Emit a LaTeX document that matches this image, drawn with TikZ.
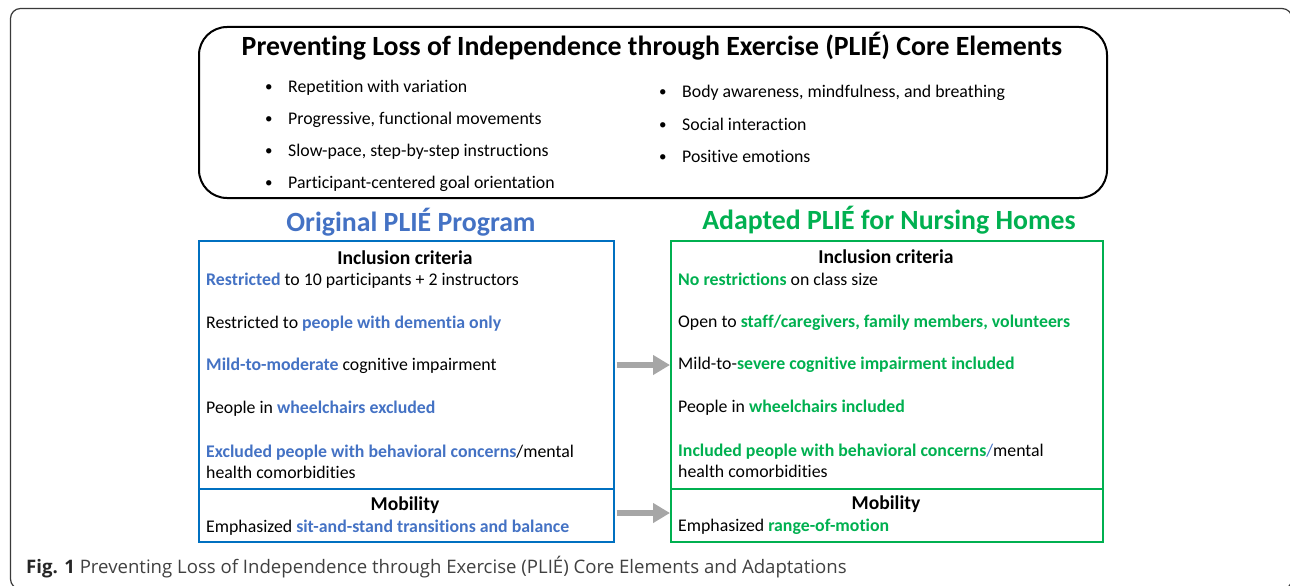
\documentclass[tikz,border=0pt]{standalone}
\usepackage{fontspec}
\setmainfont{Carlito}[Ligatures=NoCommon]
\newfontfamily\capfont{Open Sans}
\usetikzlibrary{arrows.meta}
\definecolor{plieblue}{HTML}{4472C4}
\definecolor{boxblue}{HTML}{0070C0}
\definecolor{pliegreen}{HTML}{00B050}
\definecolor{arrowgray}{HTML}{A6A6A6}
\definecolor{framegray}{HTML}{3A3A3A}
\definecolor{captiongray}{HTML}{404040}
\newcommand{\origem}[1]{\textcolor{plieblue}{\bfseries #1}}
\newcommand{\adaptem}[1]{\textcolor{pliegreen}{\bfseries #1}}
\begin{document}
\begin{tikzpicture}[x=1pt,y=-1pt,
  txt/.style={anchor=west, inner sep=0pt, align=left, yshift=-1.5pt,
    font=\fontsize{17.8}{21}\selectfont},
  bulletitem/.style={txt},
  head/.style={inner sep=0pt, yshift=-1pt, font=\fontsize{19.6}{23}\selectfont\bfseries},
  progtitle/.style={inner sep=0pt, font=\fontsize{27.8}{32}\selectfont\bfseries},
  origbox/.style={draw=boxblue, line width=2pt, anchor=north west, inner sep=0pt},
  adaptbox/.style={draw=pliegreen, line width=2pt, anchor=north west, inner sep=0pt},
  flow/.style={arrowgray, line width=5.5pt, shorten <=1.5pt,
    -{Triangle[length=17pt,width=19pt]}}]
\useasboundingbox (0,0) rectangle (1290,586);

% outer frame of the figure
\draw[framegray, line width=1.2pt, rounded corners=10pt] (10.5,8.5) rectangle (1292,589);

% core elements panel
\node[draw=black, line width=2pt, rounded corners=28pt, anchor=north west,
  minimum width=908pt, minimum height=171pt, inner sep=0pt] (core) at (198,26) {};
\node[inner sep=0pt, font=\fontsize{27.8}{32}\selectfont\bfseries] (coretitle) at (652,46)
  {Preventing Loss of Independence through Exercise (PLIÉ) Core Elements};
\newcommand{\bul}{\makebox[23pt][l]{\raisebox{1pt}{\fontsize{15}{15}\selectfont•}}}
\node[bulletitem] (c1) at (265,86) {\bul Repetition with variation};
\node[bulletitem] (c2) at (265,118) {\bul Progressive, functional movements};
\node[bulletitem] (c3) at (265,150) {\bul Slow-pace, step-by-step instructions};
\node[bulletitem] (c4) at (265,182) {\bul Participant-centered goal orientation};
\node[bulletitem] (c5) at (659,91) {\bul Body awareness, mindfulness, and breathing};
\node[bulletitem] (c6) at (659,123) {\bul Social interaction};
\node[bulletitem] (c7) at (659,155) {\bul Positive emotions};

% program titles
\node[progtitle, text=plieblue] (origtitle) at (411,222) {Original PLIÉ Program};
\node[progtitle, text=pliegreen] (adapttitle) at (889,220) {Adapted PLIÉ for Nursing Homes};

% original program boxes
\node[origbox, minimum width=415pt, minimum height=248pt] (orig) at (198,240) {};
\node[origbox, minimum width=415pt, minimum height=53pt] (omob) at (198,488) {};
% adapted program boxes
\node[adaptbox, minimum width=432pt, minimum height=248pt] (adapt) at (670,240) {};
\node[adaptbox, minimum width=432pt, minimum height=53pt] (amob) at (670,488) {};

% original program text
\node[head] (oh) at (405,257) {Inclusion criteria};
\node[txt] (o1) at (206,279) {\origem{Restricted} to 10 participants + 2 instructors};
\node[txt] (o2) at (206,322) {Restricted to \origem{people with dementia only}};
\node[txt] (o3) at (206,364) {\origem{Mild-to-moderate} cognitive impairment};
\node[txt] (o4) at (206,407) {People in \origem{wheelchairs excluded}};
\node[txt] (o5) at (206,460.5) {\origem{Excluded people with behavioral concerns}/mental\\health comorbidities};
\node[head] (omh) at (405,504) {Mobility};
\node[txt] (om) at (206,526) {Emphasized \origem{sit-and-stand transitions and balance}};

% adapted program text
\node[head] (ah) at (886,256) {Inclusion criteria};
\node[txt] (a1) at (678,278) {\adaptem{No restrictions} on class size};
\node[txt] (a2) at (678,321) {Open to \adaptem{staff/caregivers, family members, volunteers}};
\node[txt] (a3) at (678,363) {Mild-to-\adaptem{severe cognitive impairment included}};
\node[txt] (a4) at (678,406) {People in \adaptem{wheelchairs included}};
\node[txt] (a5) at (678,459.5) {\adaptem{Included people with behavioral concerns}\textcolor{plieblue}{/}mental\\health comorbidities};
\node[head] (amh) at (886,503) {Mobility};
\node[txt] (am) at (678,525) {Emphasized \adaptem{range-of-motion}};

% adaptation arrows
\draw[flow] (orig.east) -- (orig.east -| adapt.west);
\draw[flow] ([yshift=2.5pt]omob.east) -- ([yshift=2.5pt]omob.east -| amob.west);

% caption
\node[anchor=west, inner sep=0pt, text=captiongray, font=\capfont\fontsize{18.6}{22}\selectfont] (cap) at (26,567)
  {\textcolor{black!85}{\bfseries Fig. 1} Preventing Loss of Independence through Exercise (PLIÉ) Core Elements and Adaptations};
\end{tikzpicture}
\end{document}
